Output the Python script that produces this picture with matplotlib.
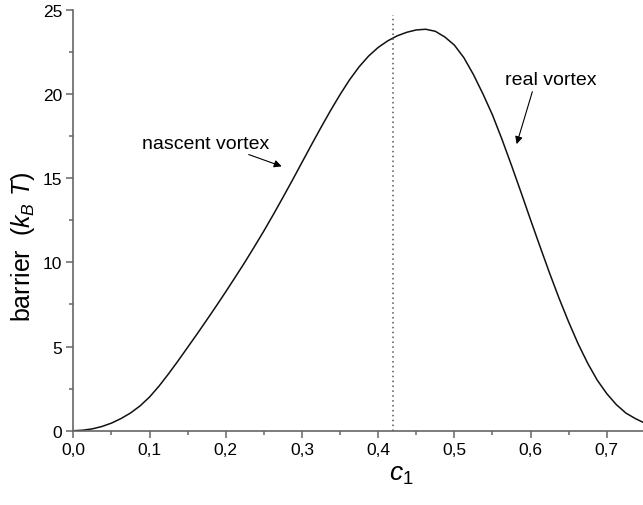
import numpy as np
import matplotlib
matplotlib.use('Agg')
import matplotlib.pyplot as plt
from matplotlib.ticker import MultipleLocator

plt.rcParams['font.family'] = ['Liberation Sans', 'DejaVu Sans']
plt.rcParams['mathtext.fontset'] = 'custom'
plt.rcParams['mathtext.rm'] = 'Liberation Sans'
plt.rcParams['mathtext.it'] = 'Liberation Sans:italic'

# barrier curve
c1 = [0.0000, 0.0125, 0.0250, 0.0375, 0.0500, 0.0625, 0.0750, 0.0875,
      0.1000, 0.1125, 0.1250, 0.1375, 0.1500, 0.1625, 0.1750, 0.1875,
      0.2000, 0.2125, 0.2250, 0.2375, 0.2500, 0.2625, 0.2750, 0.2875,
      0.3000, 0.3125, 0.3250, 0.3375, 0.3500, 0.3625, 0.3750, 0.3875,
      0.4000, 0.4125, 0.4250, 0.4375, 0.4500, 0.4625, 0.4750, 0.4875,
      0.5000, 0.5125, 0.5250, 0.5375, 0.5500, 0.5625, 0.5750, 0.5875,
      0.6000, 0.6125, 0.6250, 0.6375, 0.6500, 0.6625, 0.6750, 0.6875,
      0.7000, 0.7125, 0.7250, 0.7375, 0.7475]
barrier = [0.00, 0.03, 0.11, 0.25, 0.45, 0.72, 1.05, 1.47,
           2.00, 2.65, 3.38, 4.15, 4.95, 5.75, 6.57, 7.40,
           8.25, 9.12, 10.00, 10.92, 11.86, 12.84, 13.85, 14.88,
           15.93, 16.98, 18.01, 19.01, 19.96, 20.84, 21.61, 22.25,
           22.76, 23.15, 23.45, 23.66, 23.80, 23.84, 23.72, 23.38,
           22.90, 22.15, 21.15, 20.00, 18.75, 17.30, 15.75, 14.15,
           12.52, 10.92, 9.35, 7.85, 6.45, 5.15, 4.00, 3.00,
           2.20, 1.55, 1.05, 0.72, 0.50]

x_ticks = [0.0, 0.1, 0.2, 0.3, 0.4, 0.5, 0.6, 0.7]
x_labels = ['0,0', '0,1', '0,2', '0,3', '0,4', '0,5', '0,6', '0,7']
y_ticks = [0, 5, 10, 15, 20, 25]
c1_mark = 0.42

fig = plt.figure(figsize=(6.43, 5.06), dpi=100)
ax = fig.add_axes([0.114, 0.1468, 0.886, 0.832])

ax.plot(c1, barrier, color='#111111', lw=1.1)
ax.axvline(c1_mark, ymax=0.988, color='#555555', ls=(0, (1, 2.2)), lw=1.1)

ax.set_xlim(0, 0.7475)
ax.set_ylim(0, 25)
ax.set_xticks(x_ticks)
ax.set_xticklabels(x_labels)
ax.set_yticks(y_ticks)
ax.xaxis.set_minor_locator(MultipleLocator(0.05))
ax.yaxis.set_minor_locator(MultipleLocator(2.5))

for s in ['top', 'right']:
    ax.spines[s].set_visible(False)
for s in ['left', 'bottom']:
    ax.spines[s].set_color('#666666')
    ax.spines[s].set_linewidth(1.2)
ax.tick_params(which='major', direction='out', length=5, width=1.1,
               color='#666666', labelsize=12.5, labelcolor='black', pad=3)
ax.tick_params(which='minor', direction='out', length=2.6, width=1.1,
               color='#666666')

ax.set_xlabel('$c_{\\mathit{1}}$', fontsize=19)
ax.xaxis.set_label_coords(0.575, -0.075)
ax.set_ylabel('barrier  ($k_B\\ T$)', fontsize=18)
ax.yaxis.set_label_coords(-0.063, 0.44)

ax.annotate('nascent vortex', xy=(0.2734, 15.7), xytext=(0.0897, 17.07),
            fontsize=14, va='center', ha='left',
            arrowprops=dict(arrowstyle='-|>', color='black', lw=0.8,
                            mutation_scale=11, shrinkA=0, shrinkB=0,
                            relpos=(0.78, 0.0)))
ax.annotate('real vortex', xy=(0.5817, 17.02), xytext=(0.5663, 20.84),
            fontsize=14, va='center', ha='left',
            arrowprops=dict(arrowstyle='-|>', color='black', lw=0.8,
                            mutation_scale=11, shrinkA=0, shrinkB=0,
                            relpos=(0.3, -0.2)))

fig.savefig('out.png', dpi=100)
